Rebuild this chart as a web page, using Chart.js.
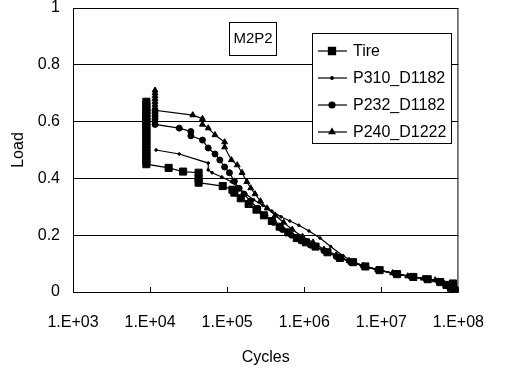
<!DOCTYPE html>
<html>
<head>
<meta charset="utf-8">
<script src="https://cdn.jsdelivr.net/npm/chart.js@4"></script>
<style>
  html, body { margin: 0; padding: 0; background: #fff; }
  #wrap { width: 505px; height: 368px; }
</style>
</head>
<body>
<div id="wrap"><canvas id="chart" width="505" height="368"></canvas></div>
<script>
(function () {
  'use strict';

  const FONT = "'Liberation Sans', Arial, sans-serif";

  const X_TICKS = [1e3, 1e4, 1e5, 1e6, 1e7, 1e8];
  const X_TICK_LABELS = ['1.E+03', '1.E+04', '1.E+05', '1.E+06', '1.E+07', '1.E+08'];
  const Y_TICK_LABELS = ['0', '0.2', '0.4', '0.6', '0.8', '1'];
  const SERIES_NAMES = ['Tire', 'P310_D1182', 'P232_D1182', 'P240_D1222'];

  const TIRE_CYCLES = [8950, 8950, 8950, 8950, 8950, 8950, 8950, 8950, 8950, 8950, 8950, 8950,
    8950, 8950, 8950, 8950, 8950, 8950, 8950, 8950, 8950, 8950, 8950,
    17400, 26800, 42600, 42600, 42600, 87600, 117000, 124000, 150000, 190000, 240000, 300000,
    380000, 480000, 620000, 800000, 1.05e6, 1.4e6, 2.0e6, 2.9e6, 4.3e6, 6.2e6, 9.5e6, 1.6e7,
    2.6e7, 4.0e7, 5.8e7, 7.0e7, 8.0e7, 8.5e7, 8.8e7];
  const TIRE_LOAD = [0.67, 0.66, 0.65, 0.64, 0.63, 0.62, 0.61, 0.60, 0.59, 0.58, 0.57, 0.56,
    0.55, 0.54, 0.53, 0.52, 0.51, 0.50, 0.49, 0.48, 0.47, 0.46, 0.45,
    0.437, 0.424, 0.42, 0.40, 0.385, 0.373, 0.36, 0.35, 0.33, 0.31, 0.29, 0.27,
    0.25, 0.23, 0.21, 0.19, 0.175, 0.16, 0.14, 0.12, 0.105, 0.09, 0.077, 0.063,
    0.053, 0.045, 0.035, 0.025, 0.015, 0.03, 0.008];

  const P310_CYCLES = [11970, 23900, 56800, 56800, 63800, 85100, 113500, 143000, 175000, 220000,
    290000, 380000, 500000, 650000, 850000, 1.15e6, 1.6e6, 2.2e6, 3.2e6, 5.5e6, 9e6, 1.5e7,
    2.5e7, 4e7, 6e7, 8e7];
  const P310_LOAD = [0.50, 0.486, 0.454, 0.43, 0.42, 0.405, 0.388, 0.365, 0.345, 0.325,
    0.305, 0.285, 0.265, 0.25, 0.235, 0.215, 0.19, 0.16, 0.127, 0.093, 0.078, 0.064,
    0.053, 0.045, 0.035, 0.02];

  const P232_CYCLES = [11600, 11600, 11600, 11600, 11600, 11600, 23900, 33800, 33800, 47800,
    56800, 69500, 80300, 92700, 107000, 124000, 143000, 165000, 200000, 250000, 310000,
    400000, 520000, 680000, 900000, 1.2e6, 1.8e6, 2.6e6, 4e6, 6e6, 9e6, 1.5e7, 2.4e7,
    3.8e7, 5.5e7, 7.5e7, 8.6e7];
  const P232_LOAD = [0.64, 0.63, 0.62, 0.61, 0.60, 0.59, 0.577, 0.565, 0.55, 0.535,
    0.507, 0.486, 0.465, 0.44, 0.42, 0.39, 0.365, 0.345, 0.32, 0.295, 0.27,
    0.245, 0.22, 0.2, 0.18, 0.165, 0.145, 0.125, 0.105, 0.09, 0.078, 0.065, 0.055,
    0.046, 0.038, 0.02, 0.01];

  const P240_CYCLES = [11600, 11600, 11600, 11600, 11600, 11600, 11600, 11600, 35800, 47800,
    47800, 56800, 69500, 92700, 92700, 113500, 135000, 156000, 180000, 202000, 230000,
    270000, 330000, 420000, 540000, 700000, 950000, 1.3e6, 1.8e6, 2.6e6, 3.8e6, 5.8e6,
    9e6, 1.4e7, 2.2e7, 3.5e7, 5e7, 6.5e7, 8e7, 8.7e7];
  const P240_LOAD = [0.71, 0.70, 0.69, 0.68, 0.67, 0.66, 0.65, 0.64, 0.623, 0.61,
    0.59, 0.577, 0.553, 0.528, 0.51, 0.465, 0.447, 0.42, 0.388, 0.366, 0.345,
    0.32, 0.295, 0.27, 0.245, 0.22, 0.195, 0.175, 0.15, 0.13, 0.11, 0.093,
    0.078, 0.067, 0.056, 0.048, 0.042, 0.03, 0.02, 0.008];

  // marker style per series (Tire, P310, P232, P240)
  const MARKERS = [
    { pointStyle: 'rect', radius: 5 },
    { pointStyle: 'circle', radius: 1.3 },
    { pointStyle: 'circle', radius: 3 },
    { pointStyle: 'triangle', radius: 3.4 }
  ];

  function pairs(xs, ys) {
    return xs.map(function (x, i) { return { x: x, y: ys[i] }; });
  }

  const SERIES_DATA = [
    pairs(TIRE_CYCLES, TIRE_LOAD),
    pairs(P310_CYCLES, P310_LOAD),
    pairs(P232_CYCLES, P232_LOAD),
    pairs(P240_CYCLES, P240_LOAD)
  ];

  // frame, inside ticks, legend box and the M2P2 label
  const decorPlugin = {
    id: 'decor',
    afterDraw: function (chart) {
      var ctx = chart.ctx;
      var a = chart.chartArea;
      var xs = chart.scales.x;
      ctx.save();
      ctx.strokeStyle = '#000';
      ctx.lineWidth = 1;
      ctx.strokeRect(a.left + 0.5, a.top + 0.5, a.right - a.left - 1, a.bottom - a.top);

      X_TICKS.forEach(function (v) {
        var px = Math.round(xs.getPixelForValue(v)) + 0.5;
        ctx.beginPath();
        ctx.moveTo(px, a.bottom);
        ctx.lineTo(px, a.bottom - 5);
        ctx.stroke();
      });

      // M2P2 box
      ctx.fillStyle = '#fff';
      ctx.fillRect(229, 22, 47, 33);
      ctx.strokeRect(229.5, 22.5, 47, 33);
      ctx.fillStyle = '#000';
      ctx.font = '15px ' + FONT;
      ctx.textAlign = 'center';
      ctx.textBaseline = 'middle';
      ctx.fillText('M2P2', 253, 39);

      // legend
      ctx.fillStyle = '#fff';
      ctx.fillRect(312, 33, 139, 110);
      ctx.strokeRect(312.5, 33.5, 139, 110);
      ctx.font = '16px ' + FONT;
      ctx.textAlign = 'left';
      SERIES_NAMES.forEach(function (name, i) {
        var y = 51 + i * 27;
        ctx.strokeStyle = '#000';
        ctx.lineWidth = 1.2;
        ctx.beginPath();
        ctx.moveTo(318, y);
        ctx.lineTo(347, y);
        ctx.stroke();
        ctx.fillStyle = '#000';
        Chart.helpers.drawPoint(ctx, {
          pointStyle: MARKERS[i].pointStyle,
          radius: MARKERS[i].radius,
          rotation: 0,
          borderWidth: 1
        }, 332, y);
        ctx.fillStyle = '#000';
        ctx.fillText(name, 353, y + 1);
      });
      ctx.restore();
    }
  };

  function initChart() {
    var el = document.getElementById('chart');
    new Chart(el, {
      type: 'scatter',
      data: {
        datasets: SERIES_DATA.map(function (d, i) {
          return {
            label: SERIES_NAMES[i],
            data: d,
            showLine: true,
            borderColor: '#000',
            backgroundColor: '#000',
            borderWidth: 1.2,
            pointStyle: MARKERS[i].pointStyle,
            pointRadius: MARKERS[i].radius,
            pointBorderWidth: 1,
            pointBackgroundColor: '#000',
            pointBorderColor: '#000',
            tension: 0
          };
        })
      },
      options: {
        responsive: false,
        animation: false,
        devicePixelRatio: 1,
        layout: { padding: { left: 0, right: 33, top: 8, bottom: 0 } },
        plugins: {
          legend: { display: false },
          tooltip: { enabled: false }
        },
        scales: {
          x: {
            type: 'logarithmic',
            min: 1e3,
            max: 1e8,
            afterBuildTicks: function (scale) {
              scale.ticks = X_TICKS.map(function (v) { return { value: v }; });
            },
            afterFit: function (scale) { scale.height = 76; },
            grid: { display: false, drawTicks: false },
            border: { display: false },
            ticks: {
              color: '#000',
              font: { family: FONT, size: 16 },
              padding: 21,
              maxRotation: 0,
              autoSkip: false,
              callback: function (v, i) { return X_TICK_LABELS[i]; }
            },
            title: {
              display: true,
              text: 'Cycles',
              color: '#000',
              font: { family: FONT, size: 16 },
              padding: { top: 0, bottom: 1 }
            }
          },
          y: {
            min: 0,
            max: 1,
            afterFit: function (scale) {
              scale.width = 73;
              scale.paddingTop = 0;
              scale.paddingBottom = 0;
            },
            grid: { color: '#000', lineWidth: 1, drawTicks: false },
            border: { display: false },
            ticks: {
              stepSize: 0.2,
              color: '#000',
              font: { family: FONT, size: 16 },
              padding: 13,
              callback: function (v, i) { return Y_TICK_LABELS[i]; }
            },
            title: {
              display: true,
              text: 'Load',
              color: '#000',
              font: { family: FONT, size: 16 },
              padding: { top: 9, bottom: 0 }
            }
          }
        }
      },
      plugins: [decorPlugin]
    });
  }

  if (document.readyState === 'loading') {
    document.addEventListener('DOMContentLoaded', initChart);
  } else {
    initChart();
  }
})();
</script>
</body>
</html>
